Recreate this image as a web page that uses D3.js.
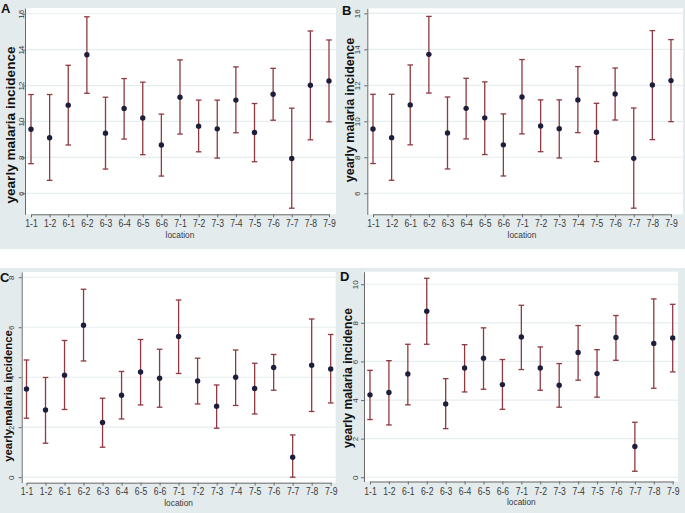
<!DOCTYPE html>
<html><head><meta charset="utf-8">
<script src="https://cdn.jsdelivr.net/npm/d3@7"></script>
<style>body{margin:0;background:#fff}svg{display:block}</style>
</head><body>
<svg id="chart" width="685" height="513"></svg>
<script>
// ---- data ----
const locations = ["1-1","1-2","6-1","6-2","6-3","6-4","6-5","6-6","7-1","7-2","7-3","7-4","7-5","7-6","7-7","7-8","7-9"];

const A_mean  = [9.57, 9.09, 10.91, 13.72, 9.35, 10.72, 10.19, 8.69, 11.35, 9.74, 9.59, 11.19, 9.39, 11.52, 7.94, 12.02, 12.26];
const A_lower = [7.65, 6.72, 8.69, 11.57, 7.35, 9.02, 8.15, 6.96, 9.30, 8.31, 7.96, 9.37, 7.76, 10.07, 5.17, 8.98, 9.98];
const A_upper = [11.5, 11.5, 13.13, 15.83, 11.35, 12.39, 12.19, 10.41, 13.43, 11.19, 11.19, 13.04, 11.0, 12.96, 10.74, 15.04, 14.54];

const B_mean  = [9.57, 9.09, 10.91, 13.72, 9.35, 10.72, 10.19, 8.69, 11.35, 9.74, 9.59, 11.19, 9.39, 11.52, 7.94, 12.02, 12.26];
const B_lower = [7.65, 6.72, 8.69, 11.57, 7.35, 9.02, 8.15, 6.96, 9.30, 8.31, 7.96, 9.37, 7.76, 10.07, 5.17, 8.98, 9.98];
const B_upper = [11.5, 11.5, 13.13, 15.83, 11.35, 12.39, 12.19, 10.41, 13.43, 11.19, 11.19, 13.04, 11.0, 12.96, 10.74, 15.04, 14.54];

const C_mean  = [3.53, 2.69, 4.08, 6.08, 2.19, 3.28, 4.21, 3.96, 5.63, 3.85, 2.84, 4.00, 3.55, 4.39, 0.80, 4.48, 4.33];
const C_lower = [2.36, 1.36, 2.71, 4.65, 1.20, 2.33, 2.89, 2.80, 4.15, 2.93, 1.96, 2.87, 2.53, 3.48, 0.00, 2.63, 2.97];
const C_upper = [4.69, 3.99, 5.47, 7.52, 3.16, 4.23, 5.51, 5.12, 7.09, 4.76, 3.69, 5.09, 4.56, 4.91, 1.69, 6.33, 5.71];

const D_mean  = [4.27, 4.39, 5.35, 8.60, 3.80, 5.66, 6.17, 4.80, 7.27, 5.66, 4.77, 6.46, 5.37, 7.24, 1.59, 6.93, 7.22];
const D_lower = [2.99, 2.71, 3.75, 6.89, 2.52, 4.42, 4.56, 3.52, 5.58, 4.51, 3.63, 5.03, 4.15, 6.06, 0.31, 4.61, 5.46];
const D_upper = [5.54, 6.04, 6.89, 10.31, 5.11, 6.87, 7.74, 6.10, 8.91, 6.75, 5.89, 7.86, 6.61, 8.38, 2.85, 9.24, 8.96];

const A_ticks = [6, 8, 10, 12, 14, 16];
const B_ticks = [6, 8, 10, 12, 14, 16];
const C_ticks = [0, 2, 4, 6, 8];
const D_ticks = [0, 2, 4, 6, 8, 10];

const yTitle = "yearly malaria incidence";
const xTitle = "location";

// ---- layout ----
const panels = [
  {name:"A", mean:A_mean, lower:A_lower, upper:A_upper, ticks:A_ticks,
   left:25, right:336, top:8, bottom:214.3, dom:[4.83,16.32], px:[31,329],
   title:{x:10, y:125, size:13.6}, label:{x:1, y:13}, tickOff:1.5,
   xlabY:227, locY:237.5},
  {name:"B", mean:B_mean, lower:B_lower, upper:B_upper, ticks:B_ticks,
   left:367.3, right:683, top:8.3, bottom:214.3, dom:[4.83,16.28], px:[373,671],
   title:{x:350, y:110, size:12.5}, label:{x:342, y:15}, tickOff:7,
   xlabY:227, locY:237.5},
  {name:"C", mean:C_mean, lower:C_lower, upper:C_upper, ticks:C_ticks,
   left:21.7, right:335.7, top:272, bottom:482.7, dom:[-0.22,8.21], px:[26.5,330.7],
   title:{x:8, y:396, size:11.4}, label:{x:0, y:282}, tickOff:8,
   xlabY:495.5, locY:505.5},
  {name:"D", mean:D_mean, lower:D_lower, upper:D_upper, ticks:D_ticks,
   left:364, right:678, top:271.7, bottom:481.5, dom:[-0.22,10.65], px:[370,672.7],
   title:{x:348, y:378, size:12.1}, label:{x:340, y:281}, tickOff:6,
   xlabY:495.5, locY:505}
];

const svg = d3.select("#chart");
const BG = "#e4ebed", GRID = "#e6edf0", AX = "#6a6a6a", TXT = "#3a3a3a";
const BAR = "#8e3a40", PT = "#1e1e3c";
const FONT = "Liberation Sans, Arial, sans-serif";

svg.append("rect").attr("x",0).attr("y",0).attr("width",685).attr("height",249).attr("fill",BG);
svg.append("rect").attr("x",0).attr("y",268).attr("width",685).attr("height",245).attr("fill",BG);

panels.forEach(p => {
  const g = svg.append("g");
  const x = d3.scalePoint().domain(locations).range(p.px);
  const y = d3.scaleLinear().domain(p.dom).range([p.bottom, p.top]);

  g.append("rect").attr("x",p.left).attr("y",p.top)
    .attr("width",p.right-p.left).attr("height",p.bottom-p.top).attr("fill","#fff");

  g.selectAll(".grid").data(p.ticks).enter().append("line")
    .attr("x1",p.left).attr("x2",p.right)
    .attr("y1",d=>y(d)).attr("y2",d=>y(d))
    .attr("stroke",GRID).attr("stroke-width",1.2);

  // y axis
  const ya = g.append("g").attr("transform",`translate(${p.left},0)`)
    .call(d3.axisLeft(y).tickValues(p.ticks).tickSize(3).tickSizeOuter(0));
  ya.select(".domain").attr("stroke",AX);
  ya.selectAll(".tick line").attr("stroke",AX);
  ya.selectAll(".tick text")
    .attr("transform","rotate(-90)")
    .attr("x",0).attr("y",-p.tickOff).attr("dy",0)
    .attr("text-anchor","middle")
    .attr("font-family",FONT)
    .attr("font-size",8).attr("fill",TXT);

  // x axis
  const xa = g.append("g").attr("transform",`translate(0,${p.bottom})`)
    .call(d3.axisBottom(x).tickSize(3).tickSizeOuter(0));
  xa.select(".domain").attr("stroke",AX);
  xa.selectAll(".tick line").attr("stroke",AX);
  xa.selectAll(".tick text")
    .attr("y",p.xlabY-p.bottom).attr("dy",0)
    .attr("transform","scale(0.82,1)")
    .attr("font-family",FONT)
    .attr("font-size",10.5).attr("fill",TXT);

  // error bars
  const idx = d3.range(locations.length);
  const cap = 2.8;
  g.selectAll(".bar").data(idx).enter().append("line")
    .attr("x1",i=>x(locations[i])).attr("x2",i=>x(locations[i]))
    .attr("y1",i=>y(p.lower[i])).attr("y2",i=>y(p.upper[i]))
    .attr("stroke",BAR).attr("stroke-width",1.3);
  g.selectAll(".capU").data(idx).enter().append("line")
    .attr("x1",i=>x(locations[i])-cap).attr("x2",i=>x(locations[i])+cap)
    .attr("y1",i=>y(p.upper[i])).attr("y2",i=>y(p.upper[i]))
    .attr("stroke",BAR).attr("stroke-width",1.3);
  g.selectAll(".capL").data(idx).enter().append("line")
    .attr("x1",i=>x(locations[i])-cap).attr("x2",i=>x(locations[i])+cap)
    .attr("y1",i=>y(p.lower[i])).attr("y2",i=>y(p.lower[i]))
    .attr("stroke",BAR).attr("stroke-width",1.3);
  g.selectAll(".pt").data(idx).enter().append("circle")
    .attr("cx",i=>x(locations[i])).attr("cy",i=>y(p.mean[i]))
    .attr("r",2.7).attr("fill",PT);

  // x title
  const cx = (p.px[0]+p.px[1])/2;
  g.append("text").attr("x",0).attr("y",0)
    .attr("text-anchor","middle")
    .attr("font-family",FONT)
    .attr("font-size",9.5).attr("fill",TXT)
    .attr("transform",`translate(${cx},${p.locY}) scale(0.88,1)`)
    .text(xTitle);

  // y title
  g.append("text")
    .attr("transform",`translate(${p.title.x},${p.title.y}) rotate(-90)`)
    .attr("text-anchor","middle").attr("dominant-baseline","central")
    .attr("font-family",FONT)
    .attr("font-weight","bold").attr("font-size",p.title.size).attr("fill","#111")
    .text(yTitle);

  // panel letter
  g.append("text").attr("x",p.label.x).attr("y",p.label.y)
    .attr("font-family",FONT)
    .attr("font-weight","bold").attr("font-size",13).attr("fill","#111")
    .text(p.name);
});
</script>
</body></html>
